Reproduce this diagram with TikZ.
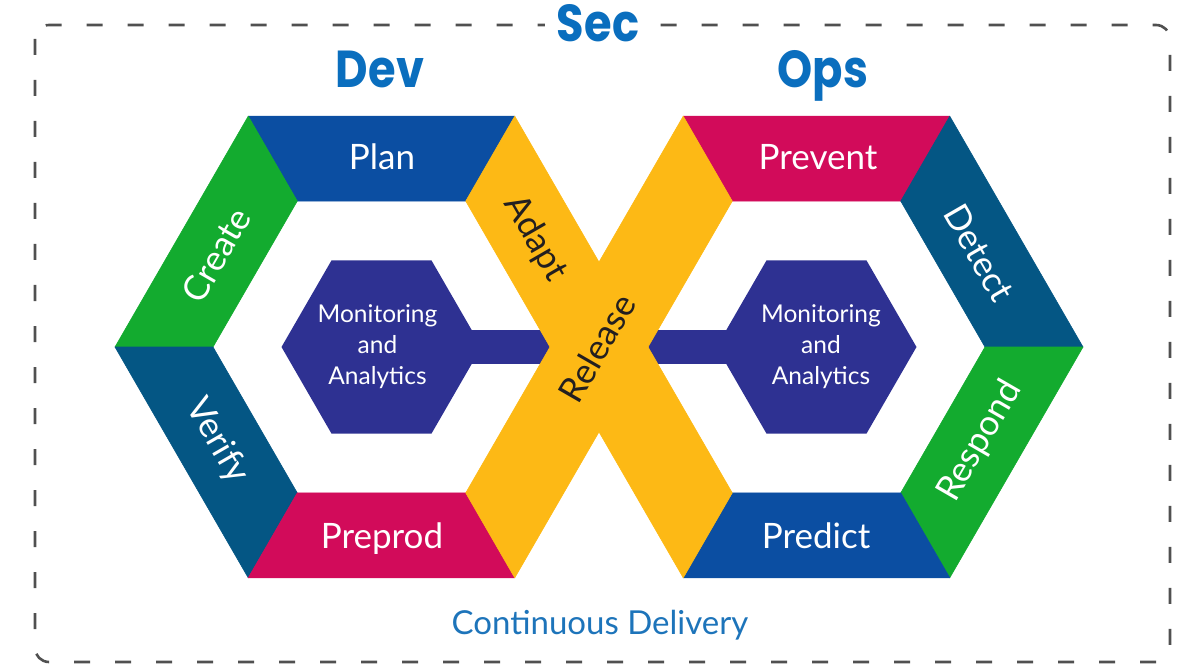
\documentclass[tikz,border=0pt]{standalone}
\usepackage{fontspec}
\setmainfont{Lato}
\newfontfamily\headfont{Poppins}
\definecolor{cgreen}{HTML}{13AB2F}
\definecolor{cblue}{HTML}{0B4EA2}
\definecolor{cteal}{HTML}{045684}
\definecolor{cmag}{HTML}{D20B5A}
\definecolor{cyel}{HTML}{FDB915}
\definecolor{cind}{HTML}{2E3192}
\definecolor{chead}{HTML}{0A6EBE}
\definecolor{cdeliv}{HTML}{1D74BA}
\definecolor{cborder}{HTML}{505050}
\definecolor{cdark}{HTML}{231F20}
\begin{document}
\begin{tikzpicture}[x=1pt,y=-1pt,
  seg/.style={fill=#1,draw=#1,line width=0.6pt,line join=round},
  seglabel/.style={text=white,font=\fontsize{35}{35}\selectfont,inner sep=0pt},
  darklabel/.style={text=cdark,font=\fontsize{35}{35}\selectfont,inner sep=0pt},
  montext/.style={text=white,align=center,font=\fontsize{24.5}{31}\selectfont,inner sep=0pt},
  headtxt/.style={text=chead,font=\headfont\bfseries\fontsize{52}{52}\selectfont,xscale=0.86,inner sep=0pt},
  border/.style={draw=cborder,line width=2.6pt,dash pattern=on 16pt off 25pt,rounded corners=14pt}
]
\useasboundingbox (0,0) rectangle (1200,671);
% left ring vertices
\coordinate (LO0) at (648,347);
\coordinate (LO1) at (514.75,116.2);
\coordinate (LO2) at (248.25,116.2);
\coordinate (LO3) at (115,347);
\coordinate (LO4) at (248.25,577.8);
\coordinate (LO5) at (514.75,577.8);
\coordinate (LI0) at (550,347);
\coordinate (LI1) at (465.75,201.1);
\coordinate (LI2) at (297.25,201.1);
\coordinate (LI3) at (213,347);
\coordinate (LI4) at (297.25,492.9);
\coordinate (LI5) at (465.75,492.9);
% right ring vertices
\coordinate (RO0) at (1083,347);
\coordinate (RO1) at (949.75,116.2);
\coordinate (RO2) at (683.25,116.2);
\coordinate (RO3) at (550,347);
\coordinate (RO4) at (683.25,577.8);
\coordinate (RO5) at (949.75,577.8);
\coordinate (RI0) at (985,347);
\coordinate (RI1) at (900.75,201.1);
\coordinate (RI2) at (732.25,201.1);
\coordinate (RI3) at (648,347);
\coordinate (RI4) at (732.25,492.9);
\coordinate (RI5) at (900.75,492.9);

% border
\draw[border] (35,25) rectangle (1170,662);

% left ring segments
\path[seg=cblue]  (LO2) -- (LO1) -- (LI1) -- (LI2) -- cycle;
\path[seg=cgreen] (LO3) -- (LO2) -- (LI2) -- (LI3) -- cycle;
\path[seg=cteal]  (LO3) -- (LO4) -- (LI4) -- (LI3) -- cycle;
\path[seg=cmag]   (LO4) -- (LO5) -- (LI5) -- (LI4) -- cycle;
% right ring segments
\path[seg=cmag]   (RO2) -- (RO1) -- (RI1) -- (RI2) -- cycle;
\path[seg=cteal]  (RO1) -- (RO0) -- (RI0) -- (RI1) -- cycle;
\path[seg=cgreen] (RO0) -- (RO5) -- (RI5) -- (RI0) -- cycle;
\path[seg=cblue]  (RO4) -- (RO5) -- (RI5) -- (RI4) -- cycle;

% connector bars
\fill[cind] (381.5,330) rectangle (562,364);
\fill[cind] (636,330) rectangle (816.5,364);
% monitoring hexagons
\fill[cind] (481.5,347) -- (431.5,260.4) -- (331.5,260.4) -- (281.5,347) -- (331.5,433.6) -- (431.5,433.6) -- cycle;
\fill[cind] (916.5,347) -- (866.5,260.4) -- (766.5,260.4) -- (716.5,347) -- (766.5,433.6) -- (866.5,433.6) -- cycle;

% yellow X
\path[seg=cyel] (LO1) -- (RI4) -- (RO4) -- (LI1) -- cycle;
\path[seg=cyel] (RO2) -- (RI2) -- (LO5) -- (LI5) -- cycle;

% labels
\node[seglabel,anchor=base] (plan) at (382,170) {Plan};
\node[seglabel,anchor=base] (preprod) at (382,548) {Preprod};
\node[seglabel,anchor=base] (prevent) at (818,170) {Prevent};
\node[seglabel,anchor=base] (predict) at (816,548) {Predict};
\node[seglabel,rotate=60] (create) at (216,255) {Create};
\node[seglabel,rotate=-60] (verify) at (217,441) {Verify};
\node[seglabel,rotate=-60] (detect) at (979,253) {Detect};
\node[seglabel,rotate=60] (respond) at (980,441) {Respond};
\node[darklabel,rotate=-60] (adapt) at (535,238) {Adapt};
\node[darklabel,rotate=60] (release) at (597,348) {Release};

\node[montext] (monL) at (377.5,347) {Monitoring\\and\\Analytics};
\node[montext] (monR) at (821,347) {Monitoring\\and\\Analytics};

\node[headtxt,fill=white,inner xsep=14pt,anchor=base] (sec) at (598,42) {Sec};
\node[headtxt,anchor=base] (dev) at (380,88) {Dev};
\node[headtxt,anchor=base] (ops) at (823,88) {Ops};

\node[text=cdeliv,font=\fontsize{33}{33}\selectfont,anchor=base,inner sep=0pt] (cd) at (600,634) {Continuous Delivery};
\end{tikzpicture}
\end{document}
